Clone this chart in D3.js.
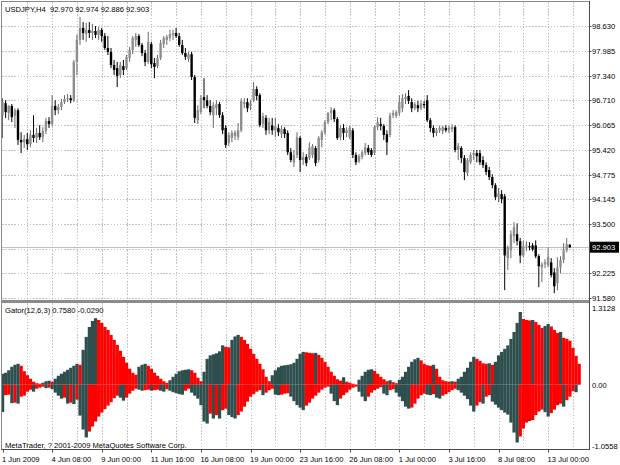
<!DOCTYPE html>
<html><head><meta charset="utf-8">
<script src="https://cdn.jsdelivr.net/npm/d3@7"></script>
<style>body{margin:0;background:#fff}svg{display:block}</style>
</head><body><svg id="c" width="620" height="465"></svg>
<script>
const title = "USDJPY,H4  92.970 92.974 92.886 92.903";
const gatorTitle = "Gator(12,6,3) 0.7580 -0.0290";
const copyright = "MetaTrader, ? 2001-2009 MetaQuotes Software Corp.";
const lastPrice = 92.903;

const open = [
96.32,96.63,96.38,96.56,96.30,96.45,95.68,95.62,95.70,95.57,
95.81,95.73,95.86,95.75,95.91,96.17,96.09,96.56,96.45,96.53,
96.66,96.74,96.76,96.71,97.70,98.27,98.58,98.42,98.53,98.45,
98.50,98.40,98.53,98.37,98.06,97.96,97.62,97.54,97.36,97.59,
97.54,97.80,98.01,98.27,98.37,98.14,97.93,97.70,98.16,97.67,
97.59,97.80,98.16,98.27,98.32,98.40,98.45,98.37,98.14,97.93,
97.78,97.90,97.31,96.19,96.40,96.79,96.71,96.56,96.32,96.50,
96.61,96.32,95.99,95.60,95.73,95.78,95.75,95.93,96.61,96.66,
96.56,96.71,97.00,96.84,96.09,96.25,95.93,96.06,95.93,95.99,
95.83,95.96,95.86,95.36,95.10,95.29,95.73,95.16,95.24,95.21,
95.29,95.47,95.16,95.68,95.88,96.14,96.38,96.45,96.22,95.75,
95.99,95.86,95.75,95.93,95.29,95.13,95.24,95.34,95.47,95.42,
95.34,96.01,96.09,96.04,95.83,95.81,96.32,96.30,96.38,96.50,
96.74,96.82,96.66,96.50,96.58,96.50,96.61,96.71,96.19,95.99,
95.86,95.93,95.91,95.99,95.93,95.96,96.01,95.42,95.47,95.21,
94.82,95.10,95.29,95.34,95.34,95.16,95.03,94.90,94.72,94.51,
94.20,94.28,94.22,92.62,92.82,93.19,93.24,93.06,92.69,92.93,
92.93,92.95,92.95,92.67,92.38,92.46,92.43,92.51,92.25,91.97,
92.38,92.57,92.82,92.970];
const high = [
96.76,96.71,96.58,96.61,96.50,96.50,95.88,95.81,95.86,95.93,
96.32,95.99,96.06,96.01,96.25,96.27,96.84,96.71,96.61,96.74,
96.84,96.87,96.84,97.75,98.40,98.86,98.73,98.71,98.73,98.68,
98.63,98.60,98.58,98.45,98.37,98.06,97.75,97.70,97.70,97.75,
97.88,98.09,98.37,98.45,98.42,98.19,98.01,98.48,98.22,97.80,
97.88,98.27,98.37,98.40,98.53,98.53,98.58,98.45,98.27,98.06,
97.96,97.96,97.36,96.58,96.84,97.28,96.84,96.71,96.66,96.71,
96.66,96.40,96.06,95.88,95.93,95.93,96.12,96.76,96.76,96.76,
96.71,97.18,97.07,96.89,96.38,96.32,96.25,96.25,96.25,96.09,
96.04,96.01,95.93,95.47,95.42,95.88,95.78,95.36,95.31,95.62,
95.57,95.52,95.78,95.93,96.19,96.40,96.53,96.50,96.27,96.06,
96.09,96.01,96.04,95.99,95.36,95.31,95.42,95.60,95.55,95.47,
96.06,96.27,96.25,96.09,95.93,96.38,96.45,96.45,96.84,96.87,
96.89,96.97,96.76,96.66,96.69,96.71,96.69,96.84,96.25,96.06,
95.99,96.04,96.04,96.06,96.04,96.09,96.06,95.60,95.52,95.29,
95.21,95.36,95.42,95.42,95.42,95.26,95.10,94.98,94.79,94.56,
94.43,94.38,94.28,92.95,93.34,93.55,93.52,93.14,93.08,93.06,
93.03,93.01,93.08,92.72,92.51,92.59,92.90,92.62,92.36,92.64,
92.67,93.01,93.14,92.974];
const low = [
95.73,96.25,96.19,96.14,95.99,95.55,95.34,95.47,95.42,95.49,
95.62,95.60,95.68,95.62,95.83,95.99,96.04,96.32,96.35,96.45,
96.61,96.66,96.63,96.66,97.36,98.14,98.27,98.22,98.32,98.27,
98.32,98.27,98.22,98.01,97.88,97.54,97.36,97.05,97.28,97.36,
97.49,97.70,97.90,98.09,98.09,97.85,97.59,97.65,97.54,97.28,
97.54,97.75,98.06,98.14,98.24,98.27,98.32,98.09,97.88,97.75,
97.70,97.23,96.12,96.09,96.35,96.50,96.50,96.32,95.99,96.32,
96.25,95.83,95.47,95.52,95.62,95.68,95.68,95.88,96.50,96.40,
96.45,96.66,96.71,96.01,95.99,95.81,95.83,95.81,95.75,95.78,
95.73,95.73,95.29,95.10,94.98,95.21,94.85,95.03,95.00,95.16,
95.21,95.00,95.10,95.49,95.81,96.09,96.19,96.14,95.68,95.68,
95.68,95.75,95.70,95.21,95.03,95.08,95.18,95.29,95.29,95.24,
95.29,95.93,95.93,95.68,95.29,95.75,96.25,96.25,96.30,96.40,
96.61,96.61,96.40,96.45,96.40,96.45,96.50,96.14,95.88,95.75,
95.78,95.86,95.83,95.88,95.86,95.88,95.36,95.16,95.08,94.64,
94.74,95.05,95.16,95.10,95.03,94.95,94.77,94.64,94.43,94.12,
94.07,94.04,91.79,92.31,92.62,93.01,92.95,92.49,92.64,92.80,
92.82,92.80,92.62,91.87,92.00,92.36,92.38,92.12,91.71,91.79,
92.23,92.49,92.77,92.886];
const close = [
96.66,96.40,96.56,96.27,96.45,95.68,95.62,95.70,95.57,95.81,
95.73,95.86,95.75,95.91,96.17,96.09,96.56,96.45,96.53,96.66,
96.74,96.76,96.71,97.70,98.27,98.58,98.45,98.53,98.45,98.50,
98.40,98.53,98.37,98.06,97.96,97.62,97.49,97.33,97.62,97.49,
97.83,98.01,98.32,98.37,98.14,97.93,97.70,98.22,97.64,97.57,
97.80,98.19,98.32,98.35,98.42,98.45,98.37,98.14,97.93,97.83,
97.90,97.31,96.25,96.45,96.76,96.71,96.56,96.40,96.58,96.61,
96.32,95.93,95.55,95.81,95.86,95.88,95.93,96.69,96.66,96.50,
96.63,97.00,96.82,96.06,96.30,95.93,96.14,95.93,96.04,95.88,
95.96,95.83,95.36,95.16,95.29,95.75,95.16,95.24,95.08,95.49,
95.52,95.08,95.73,95.88,96.14,96.38,96.45,96.22,95.73,95.99,
95.86,95.93,95.99,95.29,95.10,95.26,95.36,95.49,95.36,95.29,
96.01,96.14,96.04,95.81,95.62,96.32,96.38,96.40,96.66,96.76,
96.79,96.69,96.50,96.61,96.50,96.63,96.58,96.19,95.99,95.86,
95.93,95.99,96.01,95.93,95.99,96.01,95.42,95.52,95.21,94.85,
95.16,95.29,95.34,95.26,95.10,95.03,94.85,94.72,94.51,94.20,
94.30,94.15,92.69,92.88,93.24,93.42,93.06,92.69,92.93,92.95,
92.90,92.85,92.67,92.41,92.46,92.51,92.64,92.18,91.89,92.38,
92.57,92.82,92.98,92.903];

const gatorUp = [
0.189,0.206,0.249,0.309,0.343,0.360,0.326,0.232,0.163,0.103,
0.051,0.026,0.017,0.034,0.060,0.069,0.051,0.103,0.154,0.189,
0.223,0.257,0.292,0.326,0.360,0.343,0.601,0.824,0.995,1.098,
1.146,1.115,1.064,0.995,0.944,0.858,0.772,0.686,0.583,0.480,
0.378,0.275,0.206,0.172,0.309,0.343,0.360,0.326,0.275,0.206,
0.154,0.103,0.060,0.034,0.077,0.137,0.189,0.232,0.249,0.257,
0.266,0.249,0.206,0.120,0.060,0.223,0.446,0.506,0.523,0.541,
0.575,0.678,0.652,0.644,0.772,0.832,0.858,0.824,0.772,0.704,
0.618,0.532,0.446,0.360,0.266,0.137,0.060,0.163,0.249,0.300,
0.326,0.335,0.343,0.352,0.378,0.446,0.532,0.566,0.558,0.549,
0.541,0.549,0.515,0.463,0.395,0.309,0.223,0.154,0.094,0.069,
0.129,0.051,0.034,0.017,0.005,0.086,0.154,0.223,0.257,0.266,
0.240,0.189,0.137,0.094,0.060,0.077,0.043,0.026,0.086,0.137,
0.223,0.309,0.395,0.438,0.463,0.420,0.360,0.335,0.326,0.343,
0.275,0.137,0.077,0.060,0.051,0.060,0.051,0.103,0.137,0.223,
0.292,0.395,0.480,0.446,0.412,0.369,0.360,0.369,0.343,0.395,
0.506,0.566,0.618,0.678,0.789,0.909,1.064,1.253,1.133,1.115,
1.107,1.115,1.081,1.030,0.978,1.012,1.047,1.004,0.944,0.892,
0.909,0.807,0.789,0.758,0.635,0.498,0.360];
const gatorDown = [
-0.472,-0.180,-0.172,-0.317,-0.309,-0.326,-0.206,-0.189,-0.120,-0.086,
-0.120,-0.069,-0.051,-0.034,-0.060,-0.051,-0.077,-0.137,-0.189,-0.240,
-0.223,-0.326,-0.309,-0.335,-0.257,-0.532,-0.772,-0.909,-0.807,-0.721,
-0.635,-0.549,-0.480,-0.420,-0.360,-0.300,-0.232,-0.189,-0.223,-0.275,
-0.223,-0.154,-0.103,-0.069,-0.086,-0.103,-0.094,-0.086,-0.103,-0.094,
-0.086,-0.103,-0.120,-0.077,-0.103,-0.129,-0.146,-0.163,-0.172,-0.103,
-0.069,-0.137,-0.189,-0.240,-0.352,-0.635,-0.669,-0.498,-0.583,-0.523,
-0.583,-0.438,-0.412,-0.523,-0.558,-0.583,-0.523,-0.463,-0.378,-0.292,
-0.206,-0.163,-0.120,-0.094,-0.180,-0.137,-0.094,-0.069,-0.172,-0.180,
-0.172,-0.154,-0.146,-0.206,-0.283,-0.352,-0.395,-0.438,-0.360,-0.309,
-0.240,-0.189,-0.137,-0.086,-0.051,-0.034,-0.154,-0.283,-0.352,-0.240,
-0.180,-0.137,-0.086,-0.051,-0.034,-0.120,-0.206,-0.283,-0.206,-0.137,
-0.094,-0.069,-0.043,-0.154,-0.180,-0.094,-0.077,-0.137,-0.206,-0.283,
-0.378,-0.412,-0.395,-0.326,-0.240,-0.180,-0.154,-0.172,-0.180,-0.163,
-0.223,-0.240,-0.189,-0.163,-0.129,-0.094,-0.069,-0.094,-0.137,-0.189,
-0.249,-0.360,-0.463,-0.360,-0.300,-0.326,-0.206,-0.180,-0.292,-0.343,
-0.395,-0.438,-0.480,-0.515,-0.652,-0.824,-0.995,-0.892,-0.755,-0.652,
-0.626,-0.609,-0.523,-0.463,-0.429,-0.472,-0.549,-0.489,-0.429,-0.352,
-0.326,-0.378,-0.266,-0.206,-0.112,-0.129];

const priceTicks = [98.630, 97.985, 97.340, 96.710, 96.065, 95.420, 94.775, 94.145, 93.500, 92.865, 92.225, 91.580];
const gatorTicks = [1.3128, 0.00, -1.0558];
const gatorTickLabels = ["1.3128", "0.00", "-1.0558"];
const timeLabels = ["1 Jun 2009","4 Jun 08:00","9 Jun 00:00","11 Jun 16:00","16 Jun 08:00","19 Jun 00:00","23 Jun 16:00","26 Jun 08:00","1 Jul 00:00","3 Jul 16:00","8 Jul 08:00","13 Jul 00:00"];
const timeLabelBars = [0,16,32,48,64,80,96,112,128,144,160,176];
const gridBarStep = 8;

// layout
const W = 620, H = 465;
const L = 2, R = 589.5;
const mainTop = 2, mainBot = 300;
const indTop = 303, indBot = 449.5;
const step = 3.1;
const FONT = "'Liberation Sans', Arial, sans-serif";
const RED = "#ff0000", DARK = "#2f4f4f";

const svg = d3.select("#c");
svg.append("rect").attr("width", W).attr("height", H).attr("fill", "#fff");

const nBars = gatorUp.length;
const x = d3.scaleLinear().domain([0, nBars - 1]).range([2.5, 2.5 + step * (nBars - 1)]);
const y = d3.scaleLinear().domain([91.58, 98.63]).range([298.3, 26]);
const yg = d3.scaleLinear().domain([-1.0558, 1.3128]).range([446, 308.5]);

const defs = svg.append("defs");
defs.append("clipPath").attr("id", "cm").append("rect").attr("x", L).attr("y", mainTop).attr("width", R - L).attr("height", mainBot - mainTop);
defs.append("clipPath").attr("id", "ci").append("rect").attr("x", L).attr("y", indTop).attr("width", R - L).attr("height", indBot - indTop);

// grid
const grid = svg.append("g").attr("stroke", "#c4c4c4").attr("stroke-width", 1).attr("stroke-dasharray", "1.5,1.6").attr("shape-rendering", "crispEdges");
const vIdx = d3.range(gridBarStep, nBars, gridBarStep);
grid.selectAll("line.vm").data(vIdx).join("line").attr("class", "vm")
  .attr("x1", d => Math.round(x(d)) + 0.5).attr("x2", d => Math.round(x(d)) + 0.5)
  .attr("y1", mainTop).attr("y2", mainBot);
grid.selectAll("line.vi").data(vIdx).join("line").attr("class", "vi")
  .attr("x1", d => Math.round(x(d)) + 0.5).attr("x2", d => Math.round(x(d)) + 0.5)
  .attr("y1", indTop).attr("y2", indBot);
grid.selectAll("line.h").data(priceTicks).join("line").attr("class", "h")
  .attr("x1", L).attr("x2", R).attr("y1", d => Math.round(y(d)) + 0.5).attr("y2", d => Math.round(y(d)) + 0.5);

// last price line
svg.append("line").attr("x1", L).attr("x2", R)
  .attr("y1", Math.round(y(lastPrice)) + 0.5).attr("y2", Math.round(y(lastPrice)) + 0.5)
  .attr("stroke", "#c0c0c0").attr("stroke-width", 1.2);

// candles
const gm = svg.append("g").attr("clip-path", "url(#cm)");
const candles = d3.range(close.length).map(i => ({i, o: open[i], h: high[i], l: low[i], c: close[i]}));
gm.selectAll("line.w").data(candles).join("line").attr("class", "w")
  .attr("x1", d => x(d.i)).attr("x2", d => x(d.i))
  .attr("y1", d => y(d.h)).attr("y2", d => y(d.l))
  .attr("stroke", d => d.c >= d.o ? "#6a6a6a" : "#000").attr("stroke-width", 1);
gm.selectAll("rect.b").data(candles).join("rect").attr("class", "b")
  .attr("x", d => x(d.i) - 1.2).attr("width", 2.4)
  .attr("y", d => Math.min(y(d.o), y(d.c)))
  .attr("height", d => Math.max(Math.abs(y(d.o) - y(d.c)), 0.9))
  .attr("fill", d => d.c >= d.o ? "#8e8e8e" : "#000");

// gator
const gi = svg.append("g").attr("clip-path", "url(#ci)");
const colorOf = (arr, j) => (j === 0 || Math.abs(arr[j]) > Math.abs(arr[j - 1])) ? DARK : RED;
const up = gatorUp.map((v, j) => ({j, v, col: colorOf(gatorUp, j)}));
const dn = gatorDown.map((v, j) => ({j, v, col: colorOf(gatorDown, j)}));
gi.selectAll("rect.u").data(up).join("rect").attr("class", "u")
  .attr("x", d => x(d.j) - step / 2).attr("width", step + 0.15)
  .attr("y", d => yg(d.v)).attr("height", d => yg(0) - yg(d.v))
  .attr("fill", d => d.col);
gi.selectAll("rect.d").data(dn).join("rect").attr("class", "d")
  .attr("x", d => x(d.j) - step / 2).attr("width", step + 0.15)
  .attr("y", yg(0)).attr("height", d => yg(d.v) - yg(0))
  .attr("fill", d => d.col);

// frames
const fr = svg.append("g").attr("shape-rendering", "crispEdges");
fr.append("rect").attr("x", 1).attr("y", 1).attr("width", R - 1).attr("height", 1.4).attr("fill", "#8a8a8a");
fr.append("rect").attr("x", 1).attr("y", 1).attr("width", 1.4).attr("height", indBot - 1).attr("fill", "#8a8a8a");
fr.append("rect").attr("x", 1).attr("y", 300).attr("width", R - 1).attr("height", 2.6).attr("fill", "#8c8c8c");
fr.append("line").attr("x1", R).attr("x2", R).attr("y1", 1).attr("y2", indBot).attr("stroke", "#4a4a4a");
fr.append("line").attr("x1", 1).attr("x2", R).attr("y1", indBot).attr("y2", indBot).attr("stroke", "#4a4a4a");

// right axis labels
const lastY = y(lastPrice);
const shownTicks = priceTicks.filter(t => Math.abs(y(t) - lastY) > 8);
svg.selectAll("text.pt").data(shownTicks).join("text").attr("class", "pt")
  .attr("x", 592).attr("y", d => y(d) + 2.8)
  .attr("font-family", FONT).attr("font-size", 7.6).attr("fill", "#000")
  .text(d => d.toFixed(3));
svg.selectAll("line.pk").data(shownTicks).join("line").attr("class", "pk")
  .attr("x1", R).attr("x2", R + 2).attr("y1", d => Math.round(y(d)) + 0.5).attr("y2", d => Math.round(y(d)) + 0.5)
  .attr("stroke", "#4a4a4a");
svg.append("rect").attr("x", 590).attr("y", lastY - 5.5).attr("width", 29).attr("height", 11).attr("fill", "#000");
svg.append("text").attr("x", 592).attr("y", lastY + 2.8)
  .attr("font-family", FONT).attr("font-size", 7.6).attr("fill", "#fff").text(lastPrice.toFixed(3));

svg.selectAll("text.gt").data(gatorTicks).join("text").attr("class", "gt")
  .attr("x", 592).attr("y", d => yg(d) + 2.8)
  .attr("font-family", FONT).attr("font-size", 7.6).attr("fill", "#000")
  .text((d, k) => gatorTickLabels[k]);

// time labels
svg.selectAll("text.tl").data(timeLabelBars).join("text").attr("class", "tl")
  .attr("x", d => x(d) - 0.5).attr("y", 462)
  .attr("font-family", FONT).attr("font-size", 7.6).attr("fill", "#000")
  .text((d, k) => timeLabels[k]);
svg.selectAll("line.tk").data(timeLabelBars).join("line").attr("class", "tk")
  .attr("x1", d => Math.round(x(d)) + 0.5).attr("x2", d => Math.round(x(d)) + 0.5)
  .attr("y1", indBot).attr("y2", indBot + 3).attr("stroke", "#4a4a4a");

// titles
svg.append("text").attr("x", 5).attr("y", 11.5).attr("font-family", FONT).attr("font-size", 7.6).attr("fill", "#000")
  .attr("xml:space", "preserve").style("white-space", "pre").text(title);
svg.append("text").attr("x", 5).attr("y", 313).attr("font-family", FONT).attr("font-size", 7.6).attr("fill", "#000").text(gatorTitle);
svg.append("text").attr("x", 5).attr("y", 447.5).attr("font-family", FONT).attr("font-size", 7.6).attr("fill", "#000").text(copyright);
</script>
</body></html>
